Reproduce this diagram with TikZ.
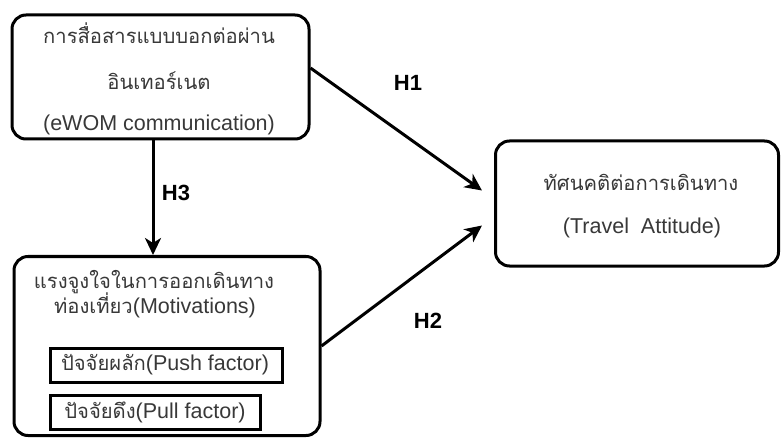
\documentclass[tikz,border=0pt]{standalone}
\usepackage{fontspec}
\setmainfont{Liberation Sans}
\newfontfamily\thai[Script=Thai,Scale=0.94]{Loma}
\usetikzlibrary{arrows.meta}
\definecolor{txt}{HTML}{383838}
\tikzset{
  bigbox/.style={draw=black, line width=3pt, rounded corners=14pt, inner sep=0pt},
  smallbox/.style={draw=black, line width=3pt, inner sep=0pt},
  lbl/.style={text=txt, font=\fontsize{21.5}{24}\selectfont, inner sep=0pt, anchor=center},
  hlbl/.style={text=black, font=\fontsize{22}{24}\selectfont\bfseries, inner sep=0pt},
  arr/.style={line width=3pt, -{Stealth[length=17pt,width=16pt,inset=5pt]}}
}
\begin{document}
\begin{tikzpicture}[x=1pt,y=-1pt]
\useasboundingbox (0,0) rectangle (781,438);
% boxes
\node[bigbox, minimum width=297pt, minimum height=124pt] (b1) at (160.5,77) {};
\node[bigbox, minimum width=306pt, minimum height=179pt] (b2) at (167,346) {};
\node[bigbox, minimum width=283pt, minimum height=125pt] (b3) at (637,203.5) {};
\node[smallbox, minimum width=232pt, minimum height=34pt] (push) at (166,365) {};
\node[smallbox, minimum width=210pt, minimum height=34pt] (pull) at (155,412) {};
% texts
\node[lbl] (t1a) at (159,33) {\thai การสื่อสารแบบบอกต่อผ่าน};
\node[lbl] (t1b) at (159,81) {\thai อินเทอร์เนต};
\node[lbl] (t1c) at (159,125) {(eWOM communication)};
\node[lbl] (t2a) at (154,282) {\thai แรงจูงใจในการออกเดินทาง};
\node[lbl] (t2b) at (155,305) {{\thai ท่องเที่ยว}(Motivations)};
\node[lbl] (tpush) at (165,365) {{\thai ปัจจัยผลัก}(Push factor)};
\node[lbl] (tpull) at (155,412) {{\thai ปัจจัยดึง}(Pull factor)};
\node[lbl] (t3a) at (641,182) {\thai ทัศนคติต่อการเดินทาง};
\node[lbl] (t3b) at (642,228) {(Travel\ \ Attitude)};
% hypothesis labels
\node[hlbl] (h1) at (408,83) {H1};
\node[hlbl] (h2) at (428,321) {H2};
\node[hlbl] (h3) at (176,193) {H3};
% arrows
\draw[arr] ([yshift=9pt]b1.east) -- ([xshift=-12pt,yshift=13pt]b3.west);
\draw[arr] (b2.east) -- ([xshift=-12pt,yshift=-22pt]b3.west);
\draw[arr] (153,0 |- b1.south) -- (153,0 |- b2.north);
\end{tikzpicture}
\end{document}
